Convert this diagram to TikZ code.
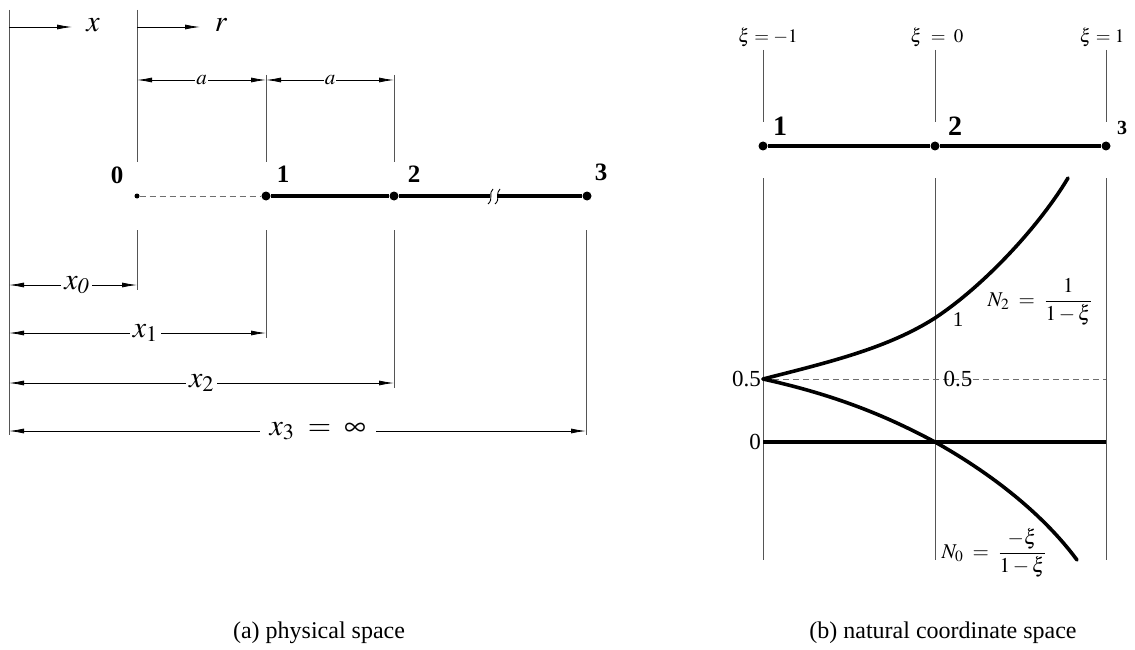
\documentclass[tikz,border=0pt]{standalone}
\usepackage{mathptmx}
\usepackage{fontspec}
\setmainfont{Liberation Serif}
\usetikzlibrary{arrows.meta, positioning, calc}
\newcommand{\pxfont}[1]{\fontsize{#1}{#1}\selectfont}
\definecolor{guideGray}{RGB}{85,85,85}
\definecolor{halfGray}{RGB}{110,110,110}
\tikzset{
  guideLine/.style={draw=guideGray, line width=0.8pt},
  dimFlow/.style={{Latex[length=15pt,width=5pt]}-{Latex[length=15pt,width=5pt]}, line width=0.8pt},
  axisFlow/.style={-{Latex[length=15pt,width=5pt]}, line width=0.8pt},
  barLine/.style={line width=3.6pt},
  shapeCurve/.style={line width=3.6pt, line cap=round},
  halfLine/.style={draw=halfGray, dash pattern=on 6pt off 4pt, line width=0.8pt},
  breakMark/.style={line width=0.9pt},
  nodeDot/.style={circle, fill, inner sep=0pt, minimum size=9pt},
  smallDot/.style={circle, fill, inner sep=0pt, minimum size=5pt},
  numLabel/.style={inner sep=0pt, font=\pxfont{25}\bfseries},
  mathLabel/.style={inner sep=0pt, font=\pxfont{30}},
  dimLabel/.style={fill=white, inner xsep=3pt, inner ysep=1pt, font=\pxfont{30}},
  aLabel/.style={fill=white, inner xsep=1pt, inner ysep=1pt, font=\pxfont{21}},
  xiLabel/.style={inner sep=0pt, font=\pxfont{19}},
  valLabel/.style={inner sep=0pt, font=\pxfont{23}},
  capLabel/.style={inner sep=0pt, font=\pxfont{24}}
}
\begin{document}
\begin{tikzpicture}[x=1pt, y=-1pt]
  \useasboundingbox (0,0) rectangle (1135,650);

  % (a) physical space
  \coordinate (xOrigTop) at (9,10);
  \coordinate (xOrigBot) at (9,435);
  \coordinate (rOrigTop) at (137,10);
  \coordinate (rOrigBot) at (137,162);
  \draw[guideLine] (xOrigTop) -- (xOrigBot);
  \draw[guideLine] (rOrigTop) -- (rOrigBot);
  \draw[guideLine] (266,75) -- (266,162);
  \draw[guideLine] (394,75) -- (394,162);
  \draw[guideLine] (137,230) -- (137,290);
  \draw[guideLine] (266,230) -- (266,338);
  \draw[guideLine] (394,230) -- (394,388);
  \draw[guideLine] (586,230) -- (586,435);

  \node[mathLabel] (xAxis) at (93,25) {$x$};
  \node[mathLabel] (rAxis) at (221,25) {$r$};
  \coordinate (xStart) at (9,27);
  \coordinate (xTip) at (72,27);
  \coordinate (rStart) at (137,27);
  \coordinate (rTip) at (200,27);
  \draw[axisFlow] (xStart) -- (xTip);
  \draw[axisFlow] (rStart) -- (rTip);

  \coordinate (aLeft) at (137,80);
  \coordinate (aMid) at (266,80);
  \coordinate (aRight) at (394,80);
  \draw[dimFlow] (aLeft) -- node[aLabel] {$a$} (aMid);
  \draw[dimFlow] (aMid) -- node[aLabel] {$a$} (aRight);

  \node[smallDot] (p0) at (137,196) {};
  \node[nodeDot] (p1) at (266,196) {};
  \node[nodeDot] (p2) at (394,196) {};
  \node[nodeDot] (p3) at (587,196) {};
  \node[numLabel] (p0Label) at (117,175) {0};
  \node[numLabel] (p1Label) at (283,174) {1};
  \node[numLabel] (p2Label) at (414,174) {2};
  \node[numLabel] (p3Label) at (601,172) {3};

  \coordinate (breakL) at (490,196);
  \coordinate (breakR) at (497,196);
  \draw[halfLine] (p0) -- (p1);
  \draw[barLine] (p1) -- (p2);
  \draw[barLine] (p2) -- (breakL);
  \draw[barLine] (breakR) -- (p3);
  \draw[breakMark] (493,189) .. controls (488,193) and (494,199) .. (488,204);
  \draw[breakMark] (500,189) .. controls (495,193) and (501,199) .. (495,204);

  \coordinate (x0L) at (9,285);   \coordinate (x0R) at (137,285);
  \coordinate (x1L) at (9,333);   \coordinate (x1R) at (266,333);
  \coordinate (x2L) at (9,383);   \coordinate (x2R) at (394,383);
  \coordinate (x3L) at (9,431);   \coordinate (x3R) at (586,431);
  \draw[dimFlow] (x0L) -- node[dimLabel, pos=0.53] {$x_{\mathit{0}}$} (x0R);
  \draw[dimFlow] (x1L) -- node[dimLabel, pos=0.53] {$x_1$} (x1R);
  \draw[dimFlow] (x2L) -- node[dimLabel] {$x_2$} (x2R);
  \draw[dimFlow] (x3L) -- node[dimLabel, pos=0.535, inner xsep=10pt] {$x_3\;=\;\infty$} (x3R);

  \node[capLabel] (capA) at (319,633) {(a) physical space};

  % (b) natural coordinate space
  \node[xiLabel] (xiL) at (768,37) {$\xi = -1$};
  \node[xiLabel] (xiM) at (937,37) {$\xi\;=\;0$};
  \node[xiLabel] (xiR) at (1102,37) {$\xi = 1$};
  \foreach \gx/\gn in {763/L, 935/M, 1106/R}{
    \coordinate (top\gn) at (\gx,50);
    \coordinate (mid\gn) at (\gx,122);
    \coordinate (low\gn) at (\gx,178);
    \coordinate (end\gn) at (\gx,560);
    \draw[guideLine] (top\gn) -- (mid\gn);
    \draw[guideLine] (low\gn) -- (end\gn);
  }

  \node[nodeDot] (q1) at (763,146) {};
  \node[nodeDot] (q2) at (935,146) {};
  \node[nodeDot] (q3) at (1106,146) {};
  \draw[barLine] (q1) -- (q2);
  \draw[barLine] (q2) -- (q3);
  \node[numLabel, font=\pxfont{28}\bfseries] (q1Label) at (780,126) {1};
  \node[numLabel, font=\pxfont{28}\bfseries] (q2Label) at (955,126) {2};
  \node[numLabel, font=\pxfont{20}\bfseries] (q3Label) at (1122,128) {3};

  \coordinate (halfL) at (763,379);
  \coordinate (halfR) at (1106,379);
  \coordinate (zeroL) at (763,442);
  \coordinate (zeroR) at (1106,442);
  \coordinate (oneM) at (935,318);
  \coordinate (zeroM) at (935,442);
  \coordinate (nTwoEnd) at (1068,178);
  \coordinate (nZeroEnd) at (1077,560);
  \draw[halfLine] (halfL) -- (halfR);
  \draw[barLine] (zeroL) -- (zeroR);
  \node[valLabel, anchor=east] (halfTick) at (761,379) {0.5};
  \node[valLabel] (halfMid) at (958,379) {0.5};
  \node[valLabel, anchor=east] (zeroTick) at (761,442) {0};
  \node[valLabel, font=\pxfont{21}] (oneMid) at (958,320) {1};

  \draw[shapeCurve] (halfL) .. controls (830,362) and (888,348) .. (oneM)
    .. controls (985,285) and (1040,225) .. (nTwoEnd);
  \draw[shapeCurve] (halfL) .. controls (840,396) and (890,418) .. (zeroM)
    .. controls (985,470) and (1040,510) .. (nZeroEnd);

  \node[valLabel, font=\pxfont{21}] (nTwo) at (1040,302) {$N_2 \;=\; \displaystyle\frac{1}{1-\xi}$};
  \node[valLabel, font=\pxfont{21}] (nZero) at (994,553) {$N_0 \;=\; \displaystyle\frac{-\xi}{1-\xi}$};

  \node[capLabel] (capB) at (943,633) {(b) natural coordinate space};
\end{tikzpicture}
\end{document}
